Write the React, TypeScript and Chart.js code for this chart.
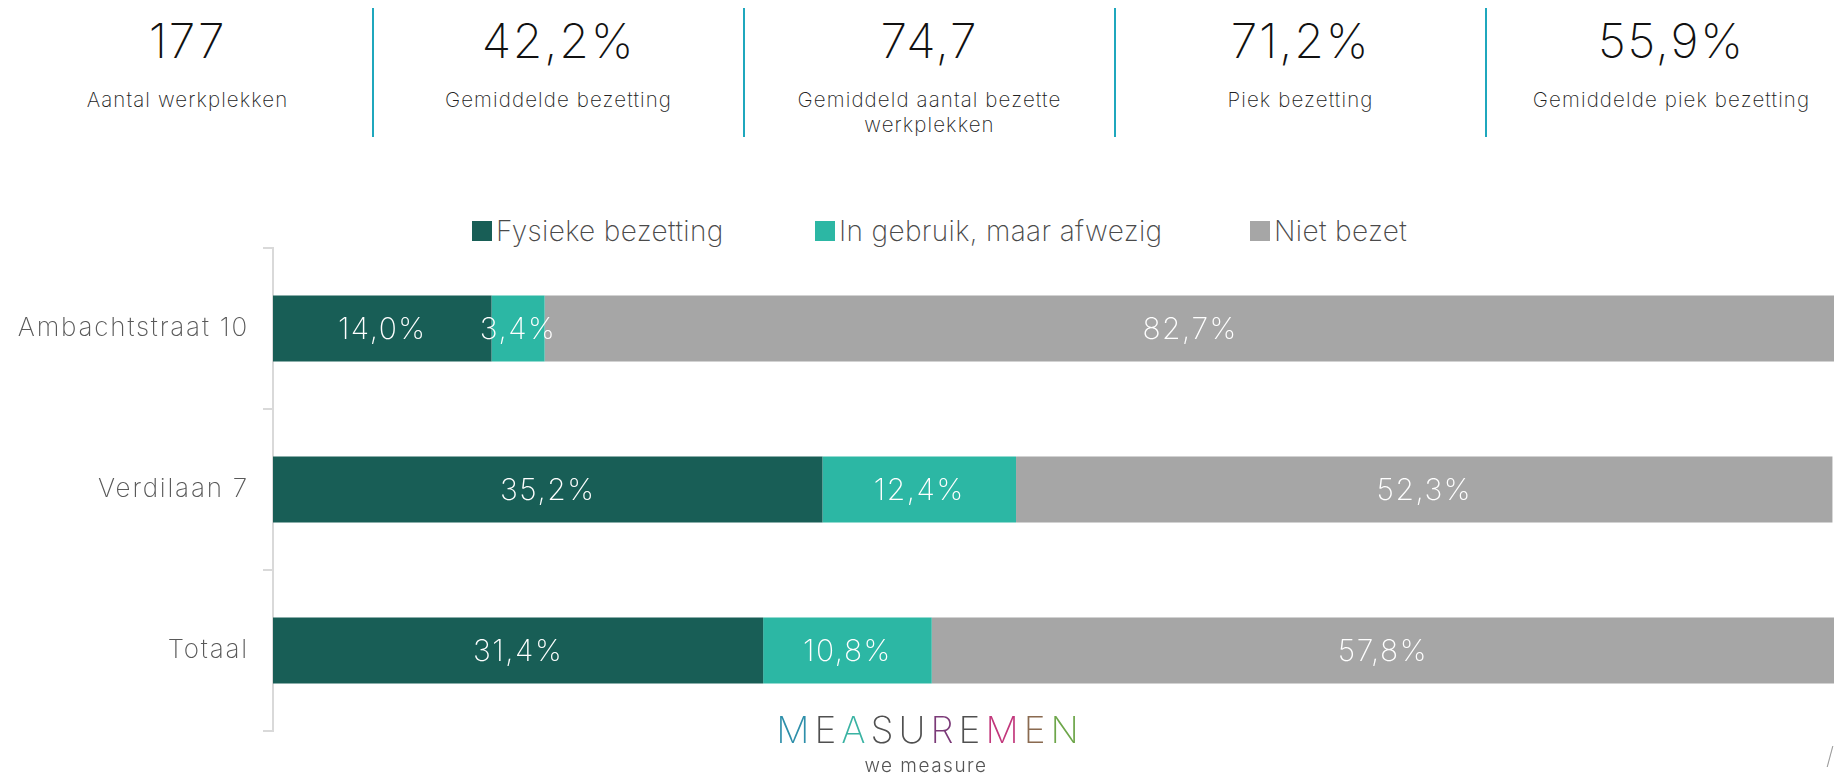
import React, { useEffect, useRef } from "react";
import { Chart, registerables } from "chart.js";

Chart.register(...registerables);

// ---- data ----
const categories = ["Ambachtstraat 10", "Verdilaan 7", "Totaal"];
const seriesNames = ["Fysieke bezetting", "In gebruik, maar afwezig", "Niet bezet"];
const fysiekeBezetting = [14.0, 35.2, 31.4];
const inGebruikAfwezig = [3.4, 12.4, 10.8];
const nietBezet = [82.7, 52.3, 57.8];
const kpiValues = ["177", "42,2%", "74,7", "71,2%", "55,9%"];
const kpiLabels = [
  "Aantal werkplekken",
  "Gemiddelde bezetting",
  "Gemiddeld aantal bezette werkplekken",
  "Piek bezetting",
  "Gemiddelde piek bezetting",
];

// ---- styles ----
const FONT = "Inter, 'Open Sans', 'DejaVu Sans', sans-serif";
const seriesColors = ["#185E56", "#2CB7A4", "#A6A6A6"];
const legendLeft = [472, 815, 1250];
const logoLetters = [
  { ch: "M", color: "#2E8FAA" },
  { ch: "E", color: "#505050" },
  { ch: "A", color: "#3AB3A3" },
  { ch: "S", color: "#505050" },
  { ch: "U", color: "#505050" },
  { ch: "R", color: "#7B3A78" },
  { ch: "E", color: "#505050" },
  { ch: "M", color: "#C2387C" },
  { ch: "E", color: "#8A6A50" },
  { ch: "N", color: "#6DA64A" },
];

const fmt = (v: number) => v.toFixed(1).replace(".", ",") + "%";

const spacingPlugin = {
  id: "letterSpacing",
  beforeDraw(chart: any) {
    try {
      chart.ctx.letterSpacing = "1.8px";
    } catch (e) {}
  },
};

const dataLabelPlugin = {
  id: "segmentLabels",
  afterDatasetsDraw(chart: any) {
    const ctx = chart.ctx;
    ctx.save();
    try {
      ctx.letterSpacing = "1.5px";
    } catch (e) {}
    ctx.font = `200 30px ${FONT}`;
    ctx.fillStyle = "#FFFFFF";
    ctx.textAlign = "center";
    ctx.textBaseline = "middle";
    chart.data.datasets.forEach((ds: any, di: number) => {
      const meta = chart.getDatasetMeta(di);
      meta.data.forEach((el: any, i: number) => {
        const { x, base, y } = el.getProps(["x", "base", "y"], true);
        ctx.fillText(fmt(ds.data[i]), (x + base) / 2, y + 1);
      });
    });
    ctx.restore();
  },
};

export default function App() {
  const canvasRef = useRef<HTMLCanvasElement | null>(null);

  useEffect(() => {
    if (!canvasRef.current) return;
    const seriesData = [fysiekeBezetting, inGebruikAfwezig, nietBezet];
    const chart = new Chart(canvasRef.current, {
      type: "bar",
      data: {
        labels: categories,
        datasets: seriesNames.map((name, i) => ({
          label: name,
          data: seriesData[i],
          backgroundColor: seriesColors[i],
          borderWidth: 0,
          barPercentage: 0.41,
          categoryPercentage: 1.0,
        })),
      },
      options: {
        indexAxis: "y",
        responsive: false,
        animation: false,
        maintainAspectRatio: false,
        layout: { padding: { top: 98, bottom: 42, left: 0, right: 0 } },
        plugins: {
          legend: { display: false },
          tooltip: { enabled: false },
        },
        scales: {
          x: {
            stacked: true,
            min: 0,
            max: 100,
            display: false,
          },
          y: {
            stacked: true,
            afterFit: (scale: any) => {
              scale.width = 273;
            },
            grid: {
              display: true,
              drawOnChartArea: false,
              drawTicks: true,
              tickLength: 10,
              color: "#D9D9D9",
              lineWidth: 2,
              offset: true,
            },
            border: { display: true, color: "#D9D9D9", width: 2 },
            ticks: {
              padding: 14,
              color: "#595959",
              font: { family: FONT, size: 26, weight: "200" as any },
            },
          },
        },
      },
      plugins: [spacingPlugin, dataLabelPlugin],
    });
    return () => chart.destroy();
  }, []);

  return (
    <div
      style={{
        position: "fixed",
        left: 0,
        top: 0,
        width: 1834,
        height: 773,
        background: "#FFFFFF",
        overflow: "hidden",
        fontFamily: FONT,
      }}
    >
      {/* KPI header */}
      {kpiValues.map((v, i) => (
        <div
          key={i}
          style={{
            position: "absolute",
            left: 3 + 371 * i,
            top: 8,
            width: 369,
            height: 129,
            borderRight: i < kpiValues.length - 1 ? "2px solid #1FA7BD" : "none",
            textAlign: "center",
          }}
        >
          <div
            style={{
              position: "absolute",
              left: 0,
              right: 0,
              top: 9,
              fontSize: 48,
              lineHeight: "48px",
              fontWeight: 200,
              letterSpacing: 1.8,
              color: "#111111",
            }}
          >
            {v}
          </div>
          <div
            style={{
              position: "absolute",
              left: 14,
              right: 14,
              top: 79,
              fontSize: 20.5,
              lineHeight: "25px",
              fontWeight: 200,
              letterSpacing: 1.1,
              color: "#222222",
            }}
          >
            {kpiLabels[i]}
          </div>
        </div>
      ))}

      {/* legend */}
      {seriesNames.map((name, i) => (
        <div
          key={name}
          style={{
            position: "absolute",
            left: legendLeft[i],
            top: 217,
            height: 28,
            display: "flex",
            alignItems: "center",
            whiteSpace: "nowrap",
          }}
        >
          <span
            style={{
              display: "inline-block",
              width: 20,
              height: 20,
              background: seriesColors[i],
              marginRight: 4,
            }}
          />
          <span
            style={{
              fontSize: 28,
              lineHeight: "28px",
              fontWeight: 200,
              letterSpacing: 0.35,
              color: "#4A4A4A",
            }}
          >
            {name}
          </span>
        </div>
      ))}

      {/* chart */}
      <canvas
        ref={canvasRef}
        width={1834}
        height={623}
        style={{ position: "absolute", left: 0, top: 150, width: 1834, height: 623 }}
      />

      {/* logo */}
      <div
        style={{
          position: "absolute",
          left: 730,
          width: 400,
          top: 708,
          textAlign: "center",
          fontSize: 37,
          lineHeight: "44px",
          fontWeight: 200,
          letterSpacing: 5,
          whiteSpace: "nowrap",
        }}
      >
        {logoLetters.map((l, i) => (
          <span key={i} style={{ color: l.color }}>
            {l.ch}
          </span>
        ))}
      </div>
      <div
        style={{
          position: "absolute",
          left: 826,
          width: 200,
          top: 754,
          textAlign: "center",
          fontSize: 19,
          lineHeight: "24px",
          fontWeight: 300,
          letterSpacing: 1.5,
          color: "#555555",
        }}
      >
        we measure
      </div>
      <div
        style={{
          position: "absolute",
          left: 1826,
          top: 742,
          fontSize: 24,
          lineHeight: "28px",
          fontWeight: 200,
          color: "#999999",
        }}
      >
        /
      </div>
    </div>
  );
}
